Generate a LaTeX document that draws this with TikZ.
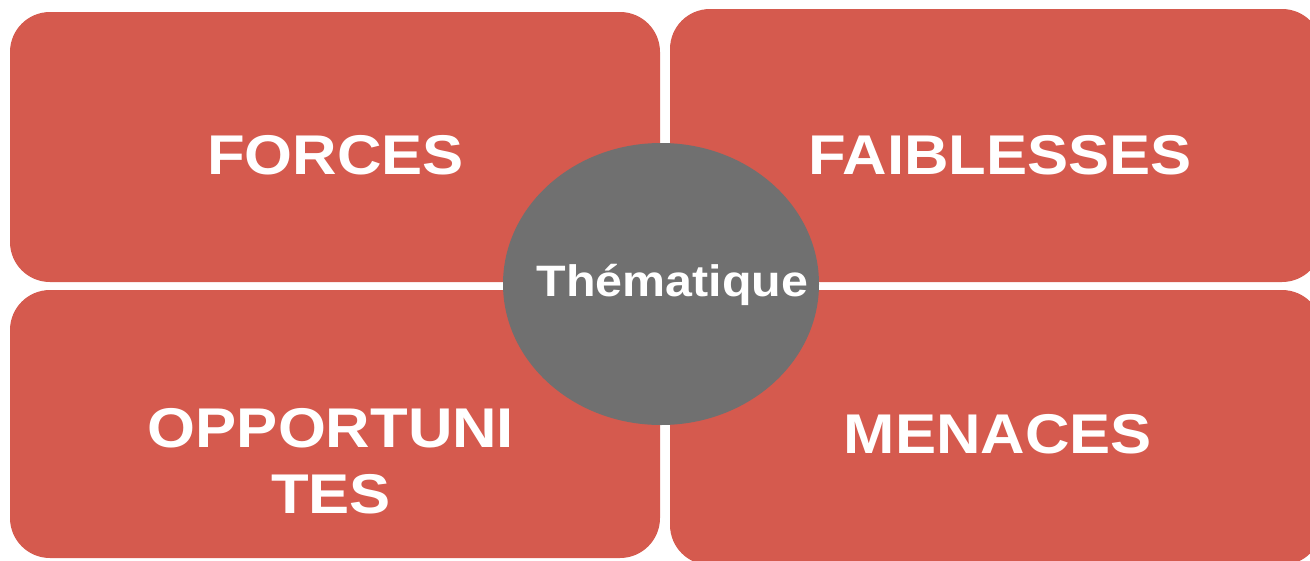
\documentclass[tikz,border=0pt]{standalone}
\usepackage{fontspec}
\usepackage{tikz}
\usetikzlibrary{positioning,shapes.geometric}
\newfontfamily\swotfont[FakeStretch=1.1]{Liberation Sans}
\definecolor{SwotRed}{RGB}{213,90,78}
\definecolor{HubGray}{RGB}{112,112,112}

\begin{document}
\begin{tikzpicture}[
    x=1pt,
    y=-1pt,
    quadrant/.style={
        fill=SwotRed,
        rounded corners=40pt,
        inner sep=0pt,
        minimum width=650pt,
        minimum height=270pt
    },
    title/.style={
        anchor=base,
        inner sep=0pt,
        align=center,
        text=white,
        font=\swotfont\bfseries\fontsize{56}{66}\selectfont
    },
    hub/.style={
        ellipse,
        fill=HubGray,
        inner sep=0pt,
        minimum width=316pt,
        minimum height=282pt
    }
]
\useasboundingbox (0,0) rectangle (1310,560);
\clip (0,0) rectangle (1310,560);

% the four quadrants
\node[quadrant] (forces) at (335,147) {};
\node[quadrant, minimum width=652pt, minimum height=273pt] (faiblesses) at (996,145.5) {};
\node[quadrant, minimum height=268pt] (opportunites) at (335,424) {};
\node[quadrant, minimum width=652pt, minimum height=275pt] (menaces) at (996,427.5) {};

\node[title] (forcesText) at (335.5,174) {FORCES};
\node[title] (faiblessesText) at (1000,174) {FAIBLESSES};
\node[title] (opportunitesText) at (331,513) {OPPORTUNI\\TES};
\node[title] (menacesText) at (998,453) {MENACES};

% centre
\node[hub] (theme) at (661,284) {};
\node[title, font=\swotfont\bfseries\fontsize{44}{52}\selectfont] (themeText) at (672.5,296) {Thématique};

\end{tikzpicture}
\end{document}
